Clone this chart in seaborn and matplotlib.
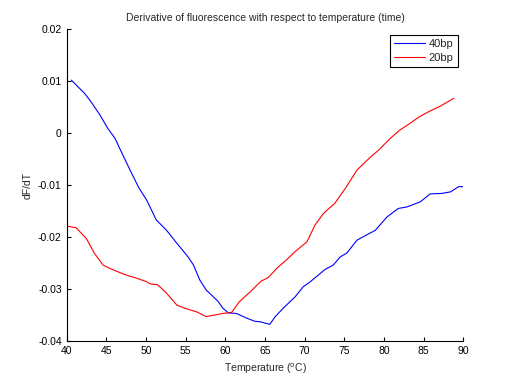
import numpy as np
import pandas as pd
import seaborn as sns
import matplotlib.pyplot as plt

# Values
temp_40bp = [40.6, 42.3, 43.1, 44.2, 45.2, 46.1, 46.9, 48.0, 49.1, 50.1, 51.3, 52.6, 53.9,
             55.3, 56.0, 56.8, 57.6, 58.5, 59.1, 59.7, 60.4, 61.4, 62.7, 63.7, 64.4, 65.6,
             66.3, 67.3, 68.8, 69.8, 70.7, 71.5, 72.6, 73.6, 74.5, 75.3, 76.6, 77.8, 78.9,
             80.4, 81.8, 82.9, 84.6, 85.8, 87.3, 88.4, 89.4, 90.0]
dfdt_40bp = [0.0102, 0.0076, 0.0060, 0.0035, 0.0009, -0.0010, -0.0036, -0.0071, -0.0105,
             -0.0129, -0.0167, -0.0187, -0.0212, -0.0238, -0.0254, -0.0283, -0.0302, -0.0315,
             -0.0324, -0.0337, -0.0346, -0.0347, -0.0356, -0.0362, -0.0363, -0.0368, -0.0353,
             -0.0337, -0.0315, -0.0296, -0.0286, -0.0276, -0.0262, -0.0254, -0.0238, -0.0231,
             -0.0206, -0.0196, -0.0187, -0.0161, -0.0145, -0.0142, -0.0132, -0.0117, -0.0116,
             -0.0113, -0.0103, -0.0103]

temp_20bp = [40.0, 41.2, 42.5, 43.5, 44.6, 45.4, 46.5, 47.5, 48.8, 50.1, 50.5, 51.5, 52.6,
             53.9, 54.9, 56.4, 57.6, 58.7, 59.7, 60.8, 61.8, 63.1, 64.5, 65.4, 66.5, 67.7,
             68.8, 70.3, 71.3, 72.4, 73.8, 75.1, 76.6, 78.3, 79.3, 80.8, 82.0, 83.3, 84.4,
             85.6, 87.1, 88.8]
dfdt_20bp = [-0.0179, -0.0182, -0.0203, -0.0231, -0.0254, -0.0260, -0.0267, -0.0273, -0.0279,
             -0.0286, -0.0290, -0.0292, -0.0308, -0.0331, -0.0337, -0.0344, -0.0353, -0.0350,
             -0.0347, -0.0345, -0.0324, -0.0306, -0.0285, -0.0278, -0.0260, -0.0244, -0.0228,
             -0.0209, -0.0177, -0.0154, -0.0135, -0.0107, -0.0071, -0.0046, -0.0033, -0.0010,
             0.0006, 0.0019, 0.0031, 0.0041, 0.0052, 0.0067]

df = pd.concat([
    pd.DataFrame({'temp': temp_40bp, 'dfdt': dfdt_40bp, 'sample': '40bp'}),
    pd.DataFrame({'temp': temp_20bp, 'dfdt': dfdt_20bp, 'sample': '20bp'}),
])

sns.set_style('ticks')
plt.rcParams['font.family'] = ['Liberation Sans', 'DejaVu Sans']
plt.rcParams['xtick.direction'] = 'in'
plt.rcParams['ytick.direction'] = 'in'

fig = plt.figure(figsize=(5.12, 3.84), dpi=100)
ax = fig.add_axes([0.13, 0.112, 0.775, 0.812])

sns.lineplot(data=df, x='temp', y='dfdt', hue='sample', palette={'40bp': 'blue', '20bp': 'red'},
             linewidth=0.8, ax=ax, sort=False)

ax.set_xlim(40, 90)
ax.set_ylim(-0.04, 0.02)
ax.set_xticks(np.arange(40, 91, 5))
ax.set_yticks([-0.04, -0.03, -0.02, -0.01, 0, 0.01, 0.02])
ax.set_yticklabels(['-0.04', '-0.03', '-0.02', '-0.01', '0', '0.01', '0.02'])
ax.tick_params(labelsize=7.5, length=3, width=0.8, colors='black')
sns.despine(ax=ax)
for s in ['left', 'bottom']:
    ax.spines[s].set_linewidth(0.8)
    ax.spines[s].set_color('black')

ax.set_title('Derivative of fluorescence with respect to temperature (time)', fontsize=7.5)
ax.set_xlabel('Temperature ($^{\\mathrm{o}}$C)', fontsize=7.5)
ax.set_ylabel('dF/dT', fontsize=7.5)

leg = ax.legend(loc='upper right', fontsize=8, frameon=True, fancybox=False,
                edgecolor='black', framealpha=1, handlelength=2.8, handletextpad=0.3,
                borderaxespad=0.5, borderpad=0.4, labelspacing=0.3)
leg.get_frame().set_linewidth(0.8)

plt.savefig('out.png', dpi=100)
